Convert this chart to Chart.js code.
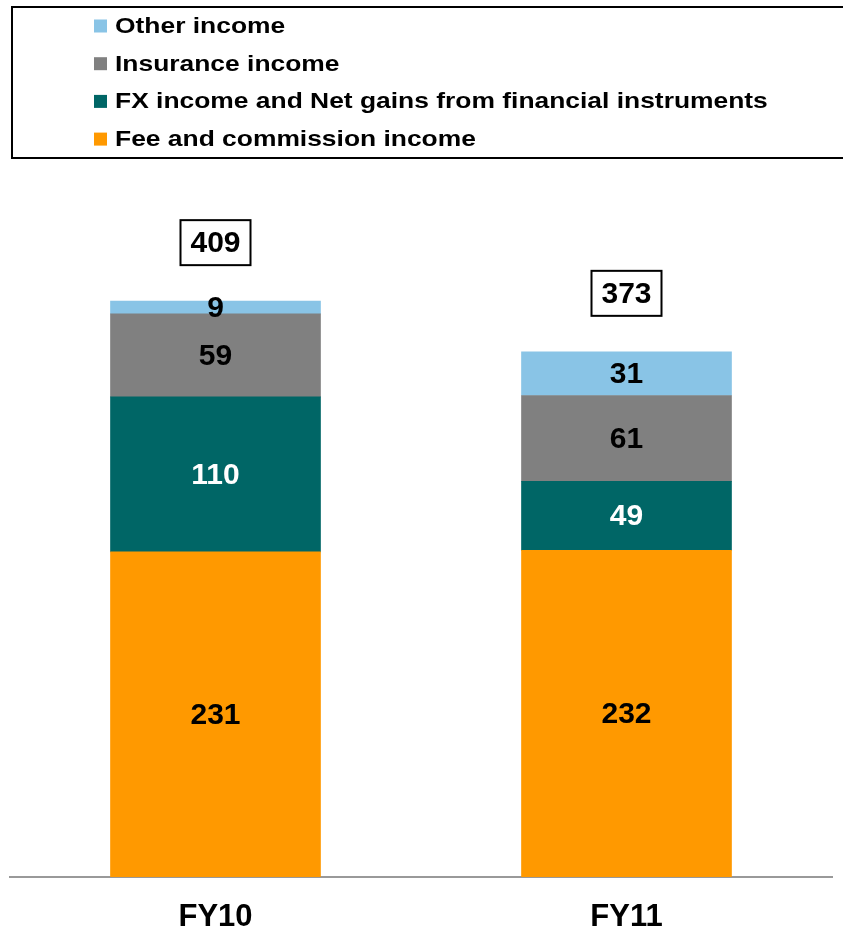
<!DOCTYPE html>
<html>
<head>
<meta charset="utf-8">
<script src="https://cdn.jsdelivr.net/npm/chart.js@4/dist/chart.umd.min.js"></script>
<style>
  html, body { margin: 0; padding: 0; background: #fff; }
  #wrap { width: 843px; height: 929px; position: relative; }
</style>
</head>
<body>
<div id="wrap"><canvas id="incomeChart"></canvas></div>
<script>
const years = ['FY10', 'FY11'];
const feeIncome = [231, 232];
const fxIncome = [110, 49];
const insuranceIncome = [59, 61];
const otherIncome = [9, 31];

const FONT = "'Liberation Sans', Arial, sans-serif";
Chart.defaults.font.family = FONT;

// value inside each stacked segment
const segmentLabels = {
    id: 'segmentLabels',
    afterDatasetsDraw(chart) {
        const ctx = chart.ctx;
        ctx.save();
        ctx.font = 'bold 30px ' + FONT;
        ctx.textAlign = 'center';
        ctx.textBaseline = 'middle';
        chart.data.datasets.forEach((ds, i) => {
            const meta = chart.getDatasetMeta(i);
            meta.data.forEach((bar, j) => {
                ctx.fillStyle = ds.labelColor;
                ctx.fillText(ds.data[j], bar.x, (bar.y + bar.base) / 2 + 1);
            });
        });
        ctx.restore();
    }
};

// boxed total above each stack
const totalLabels = {
    id: 'totalLabels',
    afterDatasetsDraw(chart) {
        const ctx = chart.ctx;
        const n = chart.data.datasets.length;
        const topMeta = chart.getDatasetMeta(n - 1);
        ctx.save();
        ctx.font = 'bold 30px ' + FONT;
        ctx.textAlign = 'center';
        ctx.textBaseline = 'middle';
        topMeta.data.forEach((bar, j) => {
            const total = chart.data.datasets.reduce((s, ds) => s + ds.data[j], 0);
            const w = 70, h = 45;
            const cy = bar.y - 36 - h / 2;
            ctx.fillStyle = '#fff';
            ctx.fillRect(bar.x - w / 2, cy - h / 2, w, h);
            ctx.lineWidth = 2;
            ctx.strokeStyle = '#000';
            ctx.strokeRect(bar.x - w / 2, cy - h / 2, w, h);
            ctx.fillStyle = '#000';
            ctx.fillText(total, bar.x, cy + 1);
        });
        ctx.restore();
    }
};

// framed legend, top series first; text is drawn a bit wide
const boxLegend = {
    id: 'boxLegend',
    afterDraw(chart) {
        const ctx = chart.ctx;
        ctx.save();
        ctx.lineWidth = 2;
        ctx.strokeStyle = '#000';
        ctx.strokeRect(12, 7, 845, 151);
        ctx.font = 'bold 22px ' + FONT;
        ctx.textAlign = 'left';
        ctx.textBaseline = 'middle';
        const items = chart.data.datasets.slice().reverse();
        items.forEach((ds, k) => {
            const cy = 26 + k * 37.7;
            ctx.fillStyle = ds.backgroundColor;
            ctx.fillRect(94, cy - 6.5, 13, 13);
            ctx.fillStyle = '#000';
            ctx.save();
            ctx.translate(115, cy + 1);
            ctx.scale(1.2, 1);
            ctx.fillText(ds.label, 0, 0);
            ctx.restore();
        });
        ctx.restore();
    }
};

new Chart(document.getElementById('incomeChart'), {
    type: 'bar',
    data: {
        labels: years,
        datasets: [
            { label: 'Fee and commission income', data: feeIncome, backgroundColor: '#FF9900', labelColor: '#000' },
            { label: 'FX income and Net gains from financial instruments', data: fxIncome, backgroundColor: '#006666', labelColor: '#fff' },
            { label: 'Insurance income', data: insuranceIncome, backgroundColor: '#808080', labelColor: '#000' },
            { label: 'Other income', data: otherIncome, backgroundColor: '#89C4E6', labelColor: '#000' }
        ]
    },
    options: {
        responsive: true,
        maintainAspectRatio: false,
        animation: false,
        layout: {
            padding: { top: 173, left: 10, right: 11, bottom: -28 }
        },
        datasets: {
            bar: { barThickness: 210, borderWidth: 0 }
        },
        plugins: {
            legend: { display: false },
            tooltip: { enabled: false }
        },
        scales: {
            x: {
                stacked: true,
                grid: { display: false, drawTicks: false },
                border: { display: true, color: '#999999', width: 2 },
                ticks: {
                    color: '#000',
                    padding: 26,
                    font: { size: 31, weight: 'bold', lineHeight: 0.9 }
                }
            },
            y: {
                stacked: true,
                display: false,
                min: 0,
                max: 500
            }
        }
    },
    plugins: [segmentLabels, totalLabels, boxLegend]
});
</script>
</body>
</html>
